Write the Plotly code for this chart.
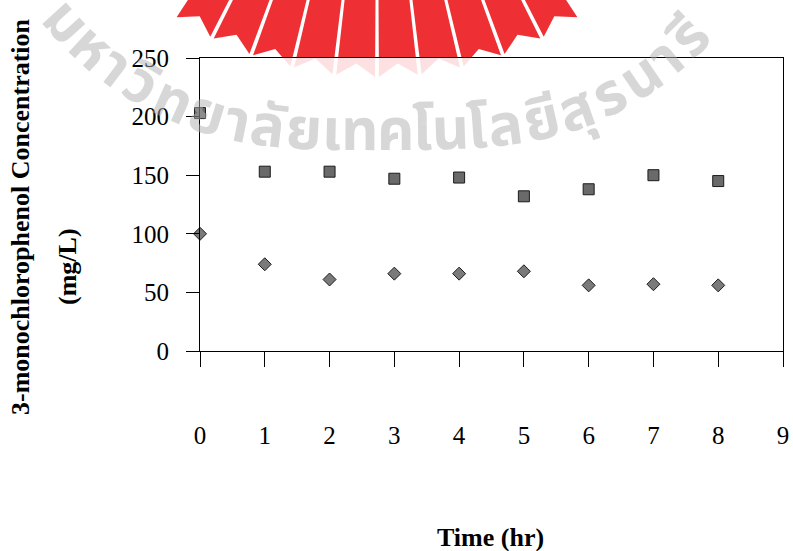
import numpy as np
import plotly.graph_objects as go

# ---------------- data ----------------
time_hr = [0, 1, 2, 3, 4, 5, 6, 7, 8]
conc_square = [203, 153, 153, 147, 148, 132, 138, 150, 145]
conc_diamond = [100, 74, 61, 66, 66, 68, 56, 57, 56]
x_ticks = [0, 1, 2, 3, 4, 5, 6, 7, 8, 9]
y_ticks = [0, 50, 100, 150, 200, 250]
y_title_1 = "3-monochlorophenol Concentration"
y_title_2 = "(mg/L)"
x_title = "Time (hr)"
watermark = ["ม", "ห", "า", "วิ", "ท", "ย", "า", "ลั", "ย", "เ", "ท", "ค",
             "โ", "น", "โ", "ล", "ยี", "สุ", "ร", "น", "า", "รี"]

# ---------------- layout geometry ----------------
W, H = 793, 551
ML, MR, MT, MB = 200, 10, 58, 200
PW, PH = W - ML - MR, H - MT - MB


def px(xp):
    return (xp - ML) / PW


def py(yp):
    return (H - MB - yp) / PH


fig = go.Figure()

fig.add_trace(go.Scatter(
    x=time_hr, y=conc_square, mode="markers", cliponaxis=False,
    marker=dict(symbol="square", size=11, color="#6a6a6a",
                line=dict(color="#1c1c1c", width=1)),
    showlegend=False))
fig.add_trace(go.Scatter(
    x=time_hr, y=conc_diamond, mode="markers", cliponaxis=False,
    marker=dict(symbol="diamond", size=10, color="#7a7a7a",
                line=dict(color="#1c1c1c", width=1)),
    showlegend=False))

# ---------------- watermark logo (decorative sun rays) ----------------
shapes = []
cx, cy, r = 377.0, -289.0, 366.0
bounds = np.radians(np.linspace(-33.5, 33.5, 11))
gap = np.radians(0.3)
for a, b in zip(bounds[:-1], bounds[1:]):
    a2, b2 = a + gap, b - gap
    m = (a + b) / 2
    pts = [
        (cx + (0 - cy) * np.tan(a2), 0),
        (cx + (0 - cy) * np.tan(b2), 0),
        (cx + r * np.sin(b2), cy + r * np.cos(b2)),
        (cx + (r - 13) * np.sin(m), cy + (r - 13) * np.cos(m)),
        (cx + r * np.sin(a2), cy + r * np.cos(a2)),
    ]
    path = "M " + " L ".join(f"{px(x):.5f},{py(y):.5f}" for x, y in pts) + " Z"
    shapes.append(dict(type="path", path=path, xref="paper", yref="paper",
                       fillcolor="#ee3034", line=dict(width=0), layer="below"))
shapes.append(dict(type="rect", xref="x domain", yref="y domain",
                   x0=0, x1=1, y0=0, y1=1, fillcolor="rgba(255,255,255,0.86)",
                   line=dict(width=0), layer="below"))

# ---------------- watermark text along a curve ----------------
annotations = []
xs = np.linspace(30, 760, 3000)
u = (xs - 385) / 315
ys = 132 - 105 * np.abs(u) ** 3.2
seg = np.hypot(np.diff(xs), np.diff(ys))
s = np.concatenate([[0], np.cumsum(seg)])
widths = []
for c in watermark:
    if c in ("เ", "โ"):
        widths.append(18.5)
    elif c == "า":
        widths.append(26)
    else:
        widths.append(36.5)
widths = np.array(widths)
start_idx = watermark.index("ลั")
s_start = np.interp(250, xs, s) - widths[:start_idx].sum()
centers = s_start + np.cumsum(widths) - widths / 2
dydx = np.gradient(ys, xs)
for ch, sc in zip(watermark, centers):
    xc = np.interp(sc, s, xs)
    yc = np.interp(sc, s, ys)
    ang = np.degrees(np.arctan(np.interp(sc, s, dydx)))
    annotations.append(dict(
        text=f"<b>{ch}</b>", x=px(xc), y=py(yc), xref="paper", yref="paper",
        showarrow=False, textangle=ang, xanchor="center", yanchor="middle",
        font=dict(family="Noto Sans Thai, Loma, Garuda, Waree, Tlwg Typo, sans-serif",
                  size=58, color="rgba(175,175,175,0.5)")))

# ---------------- axis titles ----------------
title_font = dict(family="Liberation Serif, Times New Roman, serif", size=26, color="black")
annotations.append(dict(text=f"<b>{y_title_1}</b>", x=px(20), y=py(217),
                        xref="paper", yref="paper", showarrow=False, textangle=-90,
                        xanchor="center", yanchor="middle", font=title_font))
annotations.append(dict(text=f"<b>{y_title_2}</b>", x=px(67), y=py(267),
                        xref="paper", yref="paper", showarrow=False, textangle=-90,
                        xanchor="center", yanchor="middle", font=title_font))
annotations.append(dict(text=f"<b>{x_title}</b>", x=px(490), y=py(537),
                        xref="paper", yref="paper", showarrow=False,
                        xanchor="center", yanchor="middle", font=title_font))

tick_font = dict(family="Liberation Serif, Times New Roman, serif", size=25, color="black")
fig.update_layout(
    width=W, height=H,
    margin=dict(l=ML, r=MR, t=MT, b=MB, pad=0, autoexpand=False),
    paper_bgcolor="white", plot_bgcolor="rgba(0,0,0,0)",
    shapes=shapes, annotations=annotations,
    xaxis=dict(range=[0, 9], tickvals=x_ticks, ticktext=[str(v) for v in x_ticks],
               ticks="outside", ticklen=15, tickwidth=1, tickcolor="black",
               showline=True, linecolor="black", linewidth=1, mirror=True,
               showgrid=False, zeroline=False, tickfont=tick_font, automargin=False,
               ticklabelstandoff=47, fixedrange=True),
    yaxis=dict(range=[0, 250], tickvals=y_ticks, ticktext=[str(v) for v in y_ticks],
               ticks="outside", ticklen=13, tickwidth=1, tickcolor="black",
               showline=True, linecolor="black", linewidth=1, mirror=True,
               showgrid=False, zeroline=False, tickfont=tick_font, automargin=False,
               ticklabelstandoff=12, fixedrange=True),
)

fig.write_html("out.html", config={"displayModeBar": False},
               post_script="document.body.style.margin='0';"
                           "document.body.style.overflow='hidden';")
